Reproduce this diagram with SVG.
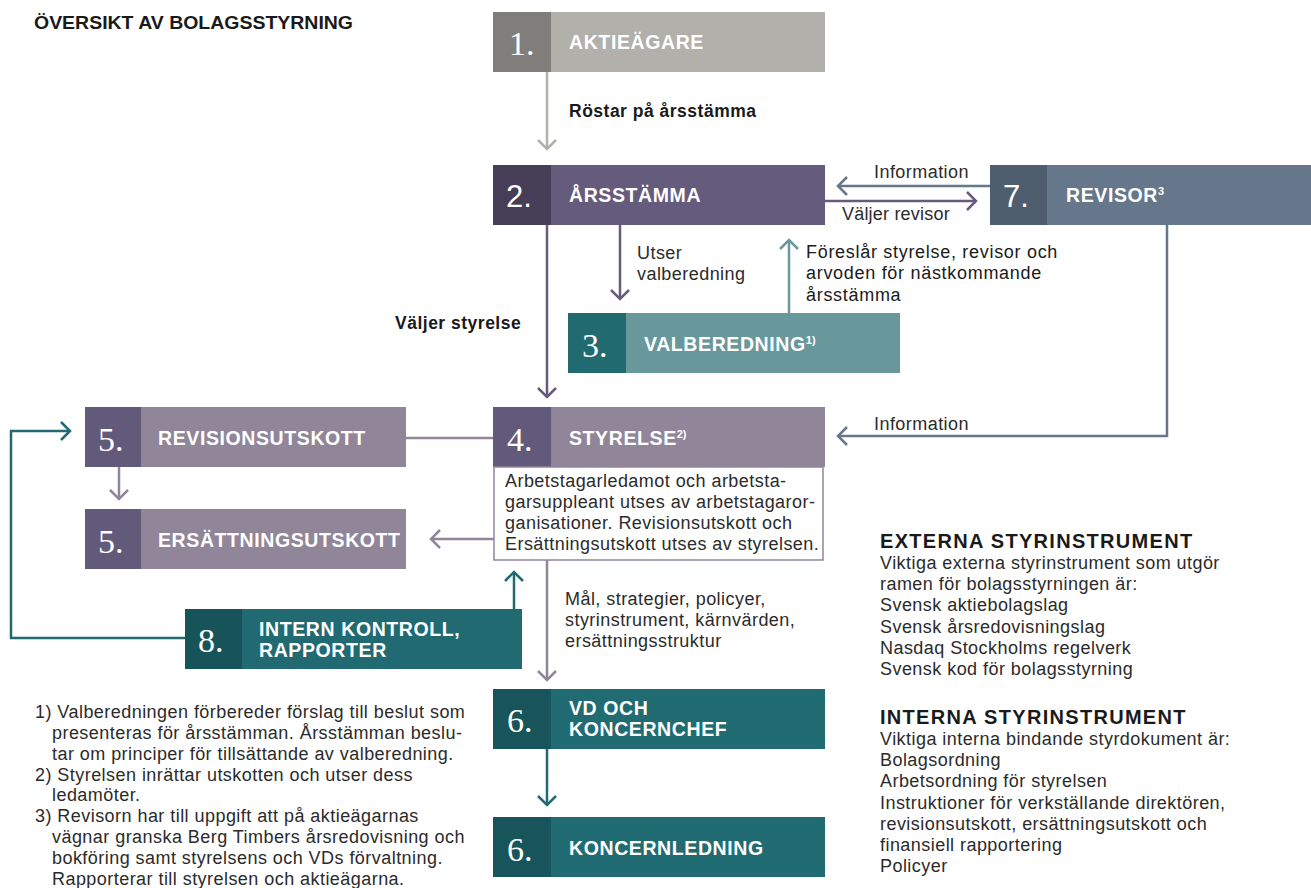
<svg xmlns="http://www.w3.org/2000/svg" width="1311" height="888" viewBox="0 0 1311 888">
<defs>
<style>
.lbl{font-family:"Liberation Sans",Arial,sans-serif;font-weight:bold;font-size:19.5px;letter-spacing:0.6px;fill:#fff}
.num{font-family:"Liberation Serif","Times New Roman",serif;font-size:34px;fill:#fff}
.nums{font-family:"Liberation Sans",Arial,sans-serif;font-size:31px;fill:#fff}
.t{font-family:"Liberation Sans",Arial,sans-serif;font-size:18px;letter-spacing:0.45px;fill:#2b2b2b}
.tb{font-family:"Liberation Sans",Arial,sans-serif;font-size:17.5px;letter-spacing:0.5px;font-weight:bold;fill:#1a1a1a}
.h{font-family:"Liberation Sans",Arial,sans-serif;font-size:20px;letter-spacing:1.3px;font-weight:bold;fill:#1a1a1a}
.c{fill:none;stroke-width:2.5}
.sup{font-size:11px;letter-spacing:0}
</style>
<marker id="aGrey" markerUnits="userSpaceOnUse" markerWidth="24" markerHeight="24" refX="0" refY="0" viewBox="-12 -12 24 24" orient="auto"><path d="M-9,-9 L0,0 L-9,9" fill="none" stroke="#b1b0ab" stroke-width="2.5"/></marker>
<marker id="aPurp" markerUnits="userSpaceOnUse" markerWidth="24" markerHeight="24" refX="0" refY="0" viewBox="-12 -12 24 24" orient="auto"><path d="M-9,-9 L0,0 L-9,9" fill="none" stroke="#655b7d" stroke-width="2.5"/></marker>
<marker id="aLila" markerUnits="userSpaceOnUse" markerWidth="24" markerHeight="24" refX="0" refY="0" viewBox="-12 -12 24 24" orient="auto"><path d="M-9,-9 L0,0 L-9,9" fill="none" stroke="#918699" stroke-width="2.5"/></marker>
<marker id="aBlue" markerUnits="userSpaceOnUse" markerWidth="24" markerHeight="24" refX="0" refY="0" viewBox="-12 -12 24 24" orient="auto"><path d="M-9,-9 L0,0 L-9,9" fill="none" stroke="#66778b" stroke-width="2.5"/></marker>
<marker id="aSea" markerUnits="userSpaceOnUse" markerWidth="24" markerHeight="24" refX="0" refY="0" viewBox="-12 -12 24 24" orient="auto"><path d="M-9,-9 L0,0 L-9,9" fill="none" stroke="#68989c" stroke-width="2.5"/></marker>
<marker id="aTeal" markerUnits="userSpaceOnUse" markerWidth="24" markerHeight="24" refX="0" refY="0" viewBox="-12 -12 24 24" orient="auto"><path d="M-9,-9 L0,0 L-9,9" fill="none" stroke="#216a71" stroke-width="2.5"/></marker>
</defs>
<rect width="1311" height="888" fill="#fff"/>
<text x="34" y="29" class="tb" style="font-size:19px;letter-spacing:0" textLength="319" lengthAdjust="spacingAndGlyphs">ÖVERSIKT AV BOLAGSSTYRNING</text>

<g id="connectors">
<line class="c" x1="547" y1="72" x2="547" y2="149" stroke="#b1b0ab" marker-end="url(#aGrey)"/>
<line class="c" x1="547" y1="225" x2="547" y2="397" stroke="#655b7d" marker-end="url(#aPurp)"/>
<line class="c" x1="620" y1="225" x2="620" y2="299" stroke="#655b7d" marker-end="url(#aPurp)"/>
<line class="c" x1="789" y1="313" x2="789" y2="240" stroke="#68989c" marker-end="url(#aSea)"/>
<line class="c" x1="990" y1="186" x2="838" y2="186" stroke="#66778b" marker-end="url(#aBlue)"/>
<line class="c" x1="825" y1="201" x2="976" y2="201" stroke="#655b7d" marker-end="url(#aPurp)"/>
<polyline class="c" points="1167,225 1167,436 838,436" stroke="#66778b" marker-end="url(#aBlue)"/>
<line class="c" x1="406" y1="438" x2="493" y2="438" stroke="#918699"/>
<line class="c" x1="119" y1="467" x2="119" y2="499" stroke="#918699" marker-end="url(#aLila)"/>
<line class="c" x1="494" y1="539" x2="431" y2="539" stroke="#918699" marker-end="url(#aLila)"/>
<line class="c" x1="514" y1="609" x2="514" y2="572" stroke="#216a71" marker-end="url(#aTeal)"/>
<polyline class="c" points="185,638 11,638 11,431 70,431" stroke="#216a71" marker-end="url(#aTeal)"/>
<line class="c" x1="547" y1="560" x2="547" y2="680" stroke="#918699" marker-end="url(#aLila)"/>
<line class="c" x1="547" y1="749" x2="547" y2="805" stroke="#216a71" marker-end="url(#aTeal)"/>
<text x="569" y="117" class="tb">Röstar på årsstämma</text>
<text x="395" y="329" class="tb">Väljer styrelse</text>
<text x="637" y="259" class="t">Utser</text>
<text x="637" y="280" class="t">valberedning</text>
<text class="t" style="font-size:18px;letter-spacing:0.7px;fill:#1a1a1a"><tspan x="806" y="258">Föreslår styrelse, revisor och</tspan><tspan x="806" y="279">arvoden för nästkommande</tspan><tspan x="806" y="301">årsstämma</tspan></text>
<text x="874" y="178" class="t">Information</text>
<text x="842" y="220" class="t" style="letter-spacing:0.2px">Väljer revisor</text>
<text x="874" y="430" class="t">Information</text>
<text class="t"><tspan x="565" y="605">Mål, strategier, policyer,</tspan><tspan x="565" y="626">styrinstrument, kärnvärden,</tspan><tspan x="565" y="647">ersättningsstruktur</tspan></text>
</g>

<g id="n1">
<rect x="493" y="12" width="332" height="60" fill="#b1b0ab"/>
<rect x="493" y="12" width="58" height="60" fill="#7f7e7b"/>
<text x="509" y="55" class="num">1.</text>
<text x="569" y="49" class="lbl">AKTIEÄGARE</text>
</g>
<g id="n2">
<rect x="493" y="165" width="332" height="60" fill="#655b7d"/>
<rect x="493" y="165" width="58" height="60" fill="#463d56"/>
<text x="506" y="207" class="nums">2.</text>
<text x="569" y="202" class="lbl">ÅRSSTÄMMA</text>
</g>
<g id="n7">
<rect x="990" y="165" width="321" height="60" fill="#66778b"/>
<rect x="990" y="165" width="57" height="60" fill="#4f5e6e"/>
<text x="1003" y="207" class="nums">7.</text>
<text x="1066" y="202" class="lbl">REVISOR<tspan class="sup" dy="-7">3</tspan></text>
</g>
<g id="n3">
<rect x="568" y="313" width="332" height="60" fill="#68989c"/>
<rect x="568" y="313" width="58" height="60" fill="#206a70"/>
<text x="582" y="357" class="num">3.</text>
<text x="644" y="351" class="lbl">VALBEREDNING<tspan class="sup" dy="-7">1)</tspan></text>
</g>
<g id="n4">
<rect x="493" y="407" width="332" height="60" fill="#918699"/>
<rect x="493" y="407" width="58" height="60" fill="#625a7b"/>
<text x="507" y="451" class="num">4.</text>
<text x="569" y="445" class="lbl">STYRELSE<tspan class="sup" dy="-7">2)</tspan></text>
<rect x="494" y="467" width="329" height="93" fill="#fff" stroke="#918699" stroke-width="1.5"/>
<text class="t"><tspan x="505" y="487">Arbetstagarledamot och arbetsta-</tspan><tspan x="505" y="508">garsuppleant utses av arbetstagaror-</tspan><tspan x="505" y="529">ganisationer. Revisionsutskott och</tspan><tspan x="505" y="550">Ersättningsutskott utses av styrelsen.</tspan></text>
</g>
<g id="n5a">
<rect x="85" y="407" width="321" height="60" fill="#918699"/>
<rect x="85" y="407" width="56" height="60" fill="#625a7b"/>
<text x="98" y="451" class="num">5.</text>
<text x="158" y="445" class="lbl">REVISIONSUTSKOTT</text>
</g>
<g id="n5b">
<rect x="85" y="509" width="321" height="60" fill="#918699"/>
<rect x="85" y="509" width="56" height="60" fill="#625a7b"/>
<text x="98" y="553" class="num">5.</text>
<text x="158" y="547" class="lbl">ERSÄTTNINGSUTSKOTT</text>
</g>
<g id="n8">
<rect x="185" y="609" width="337" height="60" fill="#216a71"/>
<rect x="185" y="609" width="57" height="60" fill="#17545a"/>
<text x="198" y="652" class="num">8.</text>
<text class="lbl"><tspan x="259" y="636">INTERN KONTROLL,</tspan><tspan x="259" y="657">RAPPORTER</tspan></text>
</g>
<g id="n6a">
<rect x="493" y="689" width="332" height="60" fill="#216b72"/>
<rect x="493" y="689" width="58" height="60" fill="#17555a"/>
<text x="507" y="732" class="num">6.</text>
<text class="lbl"><tspan x="569" y="715">VD OCH</tspan><tspan x="569" y="736">KONCERNCHEF</tspan></text>
</g>
<g id="n6b">
<rect x="493" y="817" width="332" height="60" fill="#216b72"/>
<rect x="493" y="817" width="58" height="60" fill="#17555a"/>
<text x="507" y="861" class="num">6.</text>
<text x="569" y="855" class="lbl">KONCERNLEDNING</text>
</g>

<g id="footnotes">
<text class="t"><tspan x="35" y="718">1) Valberedningen förbereder förslag till beslut som</tspan><tspan x="52" y="739">presenteras för årsstämman. Årsstämman beslu-</tspan><tspan x="52" y="760">tar om principer för tillsättande av valberedning.</tspan><tspan x="35" y="781">2) Styrelsen inrättar utskotten och utser dess</tspan><tspan x="52" y="801">ledamöter.</tspan><tspan x="35" y="822">3) Revisorn har till uppgift att på aktieägarnas</tspan><tspan x="52" y="843">vägnar granska Berg Timbers årsredovisning och</tspan><tspan x="52" y="864">bokföring samt styrelsens och VDs förvaltning.</tspan><tspan x="52" y="885">Rapporterar till styrelsen och aktieägarna.</tspan></text>
</g>

<g id="instruments">
<text x="880" y="548" class="h">EXTERNA STYRINSTRUMENT</text>
<text class="t"><tspan x="880" y="569">Viktiga externa styrinstrument som utgör</tspan><tspan x="880" y="590">ramen för bolagsstyrningen är:</tspan><tspan x="880" y="611">Svensk aktiebolagslag</tspan><tspan x="880" y="633">Svensk årsredovisningslag</tspan><tspan x="880" y="654">Nasdaq Stockholms regelverk</tspan><tspan x="880" y="675">Svensk kod för bolagsstyrning</tspan></text>
<text x="880" y="724" class="h">INTERNA STYRINSTRUMENT</text>
<text class="t"><tspan x="880" y="745">Viktiga interna bindande styrdokument är:</tspan><tspan x="880" y="766">Bolagsordning</tspan><tspan x="880" y="787">Arbetsordning för styrelsen</tspan><tspan x="880" y="809">Instruktioner för verkställande direktören,</tspan><tspan x="880" y="830">revisionsutskott, ersättningsutskott och</tspan><tspan x="880" y="851">finansiell rapportering</tspan><tspan x="880" y="872">Policyer</tspan></text>
</g>
</svg>
